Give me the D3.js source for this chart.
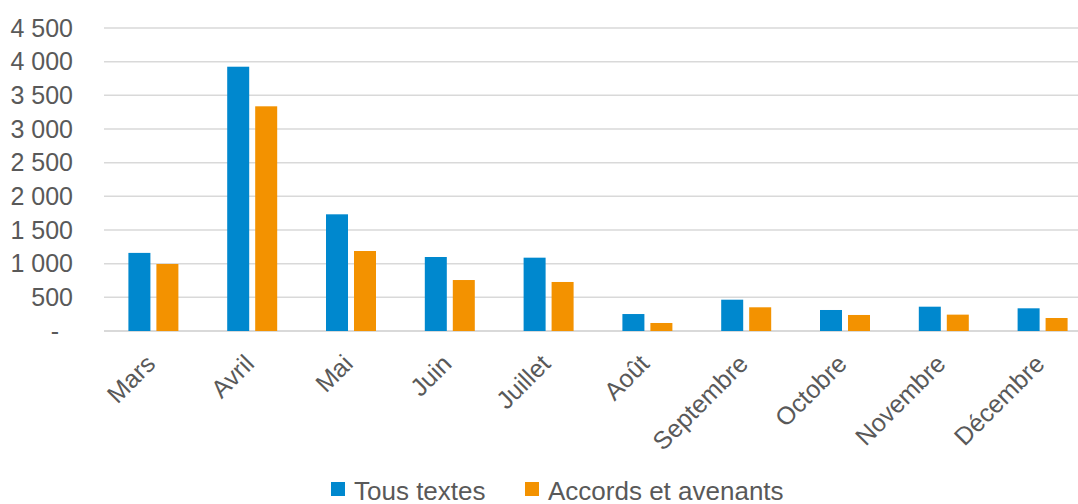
<!DOCTYPE html>
<html>
<head>
<meta charset="utf-8">
<script src="https://cdn.jsdelivr.net/npm/d3@7"></script>
<style>
  html, body { margin: 0; padding: 0; background: #fff; }
  svg { display: block; font-family: "Liberation Sans", Arial, sans-serif; }
</style>
</head>
<body>
<div id="chart"></div>
<script>
const months = ['Mars', 'Avril', 'Mai', 'Juin', 'Juillet', 'Août', 'Septembre', 'Octobre', 'Novembre', 'Décembre'];
const seriesNames = ['Tous textes', 'Accords et avenants'];
const tousTextes = [1160, 3925, 1733, 1099, 1089, 252, 465, 312, 361, 337];
const accords = [995, 3337, 1188, 757, 728, 119, 352, 238, 243, 193];
const yTicks = [0, 500, 1000, 1500, 2000, 2500, 3000, 3500, 4000, 4500];
const colors = ['#0088ce', '#f39200'];

const width = 1078;
const height = 504;
const textColor = '#595959';

const svg = d3.select('#chart').append('svg')
  .attr('width', width)
  .attr('height', height);

const x = d3.scaleBand()
  .domain(months)
  .range([104, 1092])
  .paddingInner(0.494)
  .paddingOuter(0.247);

const xSeries = d3.scaleBand()
  .domain(seriesNames)
  .range([0, x.bandwidth()])
  .paddingInner(0.214);

const y = d3.scaleLinear()
  .domain([0, 4500])
  .range([331, 28]);

// gridlines
svg.append('g')
  .selectAll('line')
  .data(yTicks)
  .enter().append('line')
    .attr('x1', 104)
    .attr('x2', width)
    .attr('y1', d => y(d))
    .attr('y2', d => y(d))
    .attr('stroke', '#d9d9d9')
    .attr('stroke-width', d => d === 0 ? 2 : 1.5);

// y labels (thousands separated by a space, zero shown as a dash)
const fmt = d => d === 0 ? '-' : d3.format(',')(d).replace(',', ' ');
svg.append('g')
  .selectAll('text')
  .data(yTicks)
  .enter().append('text')
    .attr('x', 73)
    .attr('dx', d => d === 0 ? -14 : 0)
    .attr('y', d => y(d))
    .attr('dy', '0.35em')
    .attr('text-anchor', 'end')
    .attr('fill', textColor)
    .style('font-size', '25px')
    .text(fmt);

// bars
const rows = months.map((m, i) => ({ month: m, values: [tousTextes[i], accords[i]] }));
const groups = svg.append('g')
  .selectAll('g')
  .data(rows)
  .enter().append('g')
    .attr('transform', d => `translate(${x(d.month)},0)`);

groups.selectAll('rect')
  .data(d => d.values.map((v, i) => ({ name: seriesNames[i], value: v, color: colors[i] })))
  .enter().append('rect')
    .attr('x', d => xSeries(d.name))
    .attr('width', xSeries.bandwidth())
    .attr('y', d => y(d.value))
    .attr('height', d => y(0) - y(d.value))
    .attr('fill', d => d.color);

// x labels, rotated 45 degrees
svg.append('g')
  .selectAll('text')
  .data(months)
  .enter().append('text')
    .attr('transform', d => `translate(${x(d) + x.bandwidth() / 2 - 9},353) rotate(-45)`)
    .attr('dy', '0.7em')
    .attr('text-anchor', 'end')
    .attr('fill', textColor)
    .style('font-size', '25px')
    .text(d => d);

// legend
const legendX = [331, 525];
const legend = svg.append('g')
  .selectAll('g')
  .data(seriesNames)
  .enter().append('g')
    .attr('transform', (d, i) => `translate(${legendX[i]},482)`);

legend.append('rect')
  .attr('width', 14)
  .attr('height', 14)
  .attr('fill', (d, i) => colors[i]);

legend.append('text')
  .attr('x', 23)
  .attr('y', 18)
  .attr('fill', textColor)
  .style('font-size', '26px')
  .text(d => d);
</script>
</body>
</html>
